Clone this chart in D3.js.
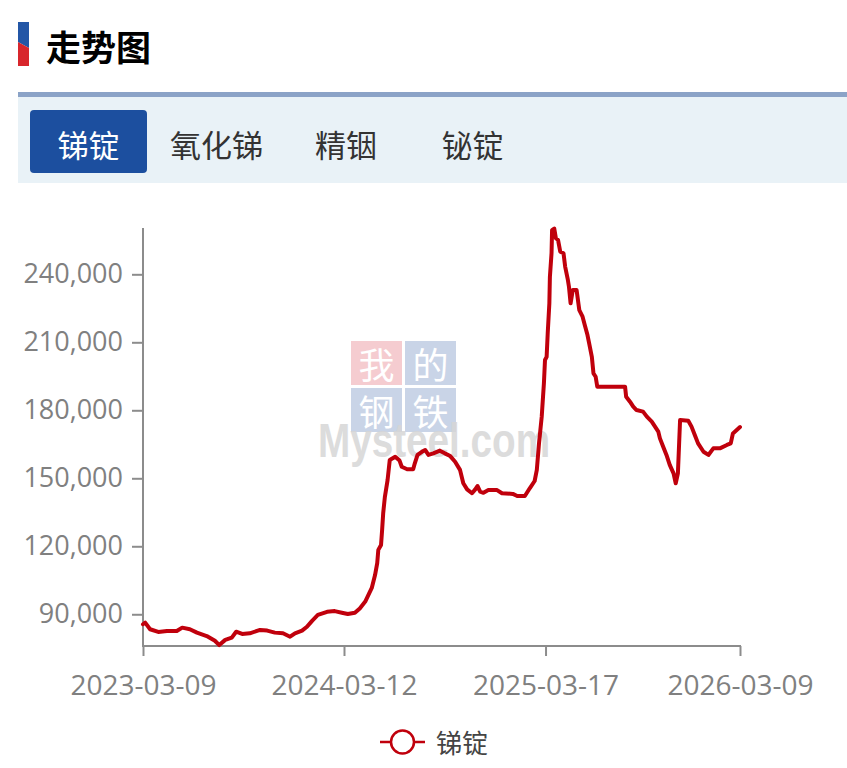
<!DOCTYPE html>
<html><head><meta charset="utf-8">
<script src="https://cdn.jsdelivr.net/npm/d3@7"></script>
<style>
html,body{margin:0;padding:0;background:#fff;}
svg{display:block;}
</style></head>
<body>
<svg id="c" width="847" height="768"></svg>
<script>
const title = "走势图";
const tabs = ["锑锭", "氧化锑", "精铟", "铋锭"];
const seriesName = "锑锭";
const xTickLabels = ["2023-03-09", "2024-03-12", "2025-03-17", "2026-03-09"];
const yTicks = [90000, 120000, 150000, 180000, 210000, 240000];
const dates = [
"2023-03-09","2023-03-13","2023-03-22","2023-04-06","2023-04-22","2023-05-10","2023-05-20","2023-06-03","2023-06-16","2023-07-04",
"2023-07-19","2023-07-27","2023-08-07","2023-08-19","2023-08-27","2023-09-07","2023-09-21","2023-10-10","2023-10-23","2023-11-06",
"2023-11-21","2023-12-04","2023-12-13","2023-12-26","2024-01-04","2024-01-13","2024-01-24","2024-02-10","2024-02-24","2024-03-08",
"2024-03-19","2024-04-01","2024-04-10","2024-04-20","2024-04-25","2024-05-02","2024-05-08","2024-05-12","2024-05-14","2024-05-19",
"2024-05-21","2024-05-23","2024-05-26","2024-05-31","2024-06-04","2024-06-14","2024-06-22","2024-06-26","2024-07-06","2024-07-17",
"2024-07-20","2024-07-25","2024-08-02","2024-08-08","2024-08-14","2024-08-23","2024-09-04","2024-09-13","2024-09-23","2024-10-02",
"2024-10-11","2024-10-17","2024-10-24","2024-11-02","2024-11-08","2024-11-12","2024-11-17","2024-11-23","2024-12-02","2024-12-18",
"2024-12-27","2025-01-16","2025-01-24","2025-02-07","2025-02-16","2025-02-25","2025-03-01","2025-03-05","2025-03-10","2025-03-14",
"2025-03-16","2025-03-19","2025-03-21","2025-03-24","2025-03-25","2025-03-28","2025-03-29","2025-04-02","2025-04-05","2025-04-09",
"2025-04-13","2025-04-19","2025-04-22","2025-04-27","2025-04-29","2025-05-02","2025-05-06","2025-05-13","2025-05-18","2025-05-24",
"2025-05-28","2025-06-02","2025-06-05","2025-06-10","2025-06-13","2025-06-17","2025-06-20","2025-08-10","2025-08-12","2025-08-19",
"2025-08-25","2025-08-31","2025-09-12","2025-09-19","2025-09-28","2025-10-04","2025-10-10","2025-10-13","2025-10-19","2025-10-25",
"2025-10-31","2025-11-07","2025-11-11","2025-11-15","2025-11-19","2025-12-04","2025-12-10","2025-12-16","2025-12-22","2026-01-01",
"2026-01-10","2026-01-19","2026-01-31","2026-02-13","2026-02-20","2026-02-24","2026-03-03","2026-03-09"
];
const values = [
85600,86300,83400,82200,82600,82600,84100,83400,81900,80400,
78300,76400,78700,79700,82300,81300,81600,83100,82800,81900,
81600,80100,81600,82800,84500,87000,89700,91100,91400,90700,
90100,90700,92600,95600,98100,101600,107300,112600,118400,120600,
127200,134700,141700,149200,158100,159500,157800,155100,154000,154000,
156600,160300,161700,162500,160300,161000,162200,161000,159800,157300,
153700,147800,145100,143400,145100,146600,144100,143600,144800,144800,
143400,143100,142200,142200,145600,148800,153700,165400,177200,191900,
202200,203600,214000,227200,238900,249300,259500,260200,255900,255100,
250000,249300,243400,237500,234500,227200,233100,233100,224200,221300,
217600,213200,209600,203600,196300,194800,190400,190400,186000,183800,
181600,180100,179400,177200,175000,172800,170600,167600,163900,160300,
155900,152200,147800,152200,175700,175400,172800,169100,165400,161700,
160300,163200,163200,164700,165400,169800,171300,172600
];
const yDomain = [76000, 260300];

const svg = d3.select("#c");
const CJK = "'Noto Sans CJK SC','Noto Sans',sans-serif";
const NUM = "'Open Sans','Noto Sans',sans-serif";

// header marker
svg.append("polygon").attr("points","18,22 29,22 29,48 18,42").attr("fill","#2356a6");
svg.append("polygon").attr("points","18,42 29,48 29,66 18,66").attr("fill","#d8262c");
svg.append("text").attr("x",46).attr("y",45).attr("dominant-baseline","central")
  .attr("font-family",CJK).attr("font-weight","bold").attr("font-size",35).attr("fill","#000").text(title);

// tab bar
svg.append("rect").attr("x",18).attr("y",97).attr("width",829).attr("height",86).attr("fill","#e9f2f7");
svg.append("rect").attr("x",18).attr("y",92).attr("width",829).attr("height",5).attr("fill","#8ba3c7");
svg.append("rect").attr("x",30).attr("y",110).attr("width",117).attr("height",63).attr("rx",4).attr("fill","#1c4f9f");
const tabX = [88.5, 216.5, 346, 472.5];
svg.selectAll("text.tab").data(tabs).enter().append("text").attr("class","tab")
  .attr("x",(d,i)=>tabX[i]).attr("y",143).attr("text-anchor","middle").attr("dominant-baseline","central")
  .attr("font-family",CJK).attr("font-size",31).attr("fill",(d,i)=>i===0?"#fff":"#333").text(d=>d);

// scales
const parse = d3.timeParse("%Y-%m-%d");
const x = d3.scaleTime().domain([parse(xTickLabels[0]), parse(xTickLabels[xTickLabels.length-1])]).range([143, 740]);
const y = d3.scaleLinear().domain(yDomain).range([646, 228.3]);

// watermark
const wm = svg.append("g");
const cells = [["我","#f3c3c8",351,341],["的","#bfcde3",405,341],["钢","#bfcde3",351,388],["铁","#bfcde3",405,388]];
cells.forEach(c=>{
  wm.append("rect").attr("x",c[2]).attr("y",c[3]).attr("width",51).attr("height",44).attr("fill",c[1]).attr("opacity",0.85);
  wm.append("text").attr("x",c[2]+25.5).attr("y",c[3]+22).attr("text-anchor","middle").attr("dominant-baseline","central")
    .attr("font-family","'Noto Sans CJK SC',serif").attr("font-size",36).attr("fill","#fff").text(c[0]);
});
wm.append("text").attr("x",318).attr("y",457).attr("font-family","'Liberation Sans',Arial,sans-serif").attr("font-weight","bold")
  .attr("font-size",48).attr("textLength",232).attr("lengthAdjust","spacingAndGlyphs").attr("fill","#d6d6d6").attr("opacity",0.85).text("Mysteel.com");

// axes
const axisColor = "#8c8c8c";
const yAxis = svg.append("g").attr("transform","translate(143,0)")
  .call(d3.axisLeft(y).tickValues(yTicks).tickSize(11).tickPadding(9).tickFormat(d3.format(",")));
const xAxis = svg.append("g").attr("transform","translate(0,646)")
  .call(d3.axisBottom(x).tickValues(xTickLabels.map(parse)).tickSize(10).tickPadding(19).tickFormat(d3.timeFormat("%Y-%m-%d")));
[yAxis, xAxis].forEach(g=>{
  g.select(".domain").remove();
  g.selectAll("line").attr("stroke",axisColor).attr("stroke-width",2);
  g.selectAll("text").attr("fill","#808080").attr("font-family",NUM).attr("font-size",27);
});
xAxis.selectAll("text").attr("font-size",28);
svg.append("line").attr("x1",143).attr("x2",143).attr("y1",228).attr("y2",647).attr("stroke",axisColor).attr("stroke-width",2);
svg.append("line").attr("x1",142).attr("x2",741).attr("y1",646).attr("y2",646).attr("stroke",axisColor).attr("stroke-width",2);

// line
const data = dates.map((d,i)=>({date:parse(d), value:values[i]}));
svg.append("path").datum(data).attr("fill","none").attr("stroke","#c0000c").attr("stroke-width",4)
  .attr("stroke-linejoin","round").attr("stroke-linecap","round")
  .attr("d", d3.line().x(d=>x(d.date)).y(d=>y(d.value)));

// legend
const lg = svg.append("g");
lg.append("line").attr("x1",380).attr("x2",425).attr("y1",742).attr("y2",742).attr("stroke","#c0000c").attr("stroke-width",2.5);
lg.append("circle").attr("cx",402.5).attr("cy",742).attr("r",11.5).attr("fill","#fff").attr("stroke","#c0000c").attr("stroke-width",2.5);
lg.append("text").attr("x",436).attr("y",741).attr("dominant-baseline","central").attr("font-family",CJK)
  .attr("font-size",26).attr("fill","#444").text(seriesName);
</script>
</body></html>
